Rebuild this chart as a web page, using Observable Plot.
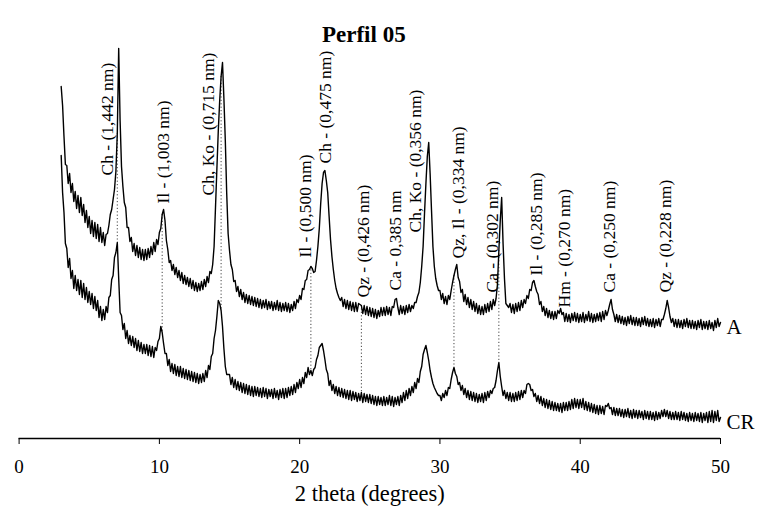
<!DOCTYPE html>
<html>
<head>
<meta charset="utf-8">
<script src="https://cdn.jsdelivr.net/npm/d3@7"></script>
<script src="https://cdn.jsdelivr.net/npm/@observablehq/plot@0.6"></script>
<style>
  body { margin: 0; background: #fff; }
</style>
</head>
<body>
<div id="chart"></div>
<script>
// XRD diffractograms, Perfil 05 — sample A (upper trace) and CR (lower trace)
const title = "Perfil 05";
const xLabel = "2 theta (degrees)";
const xTicks = [0, 10, 20, 30, 40, 50];

// Scan grid: 2θ from 3.0° in 0.1° steps (471 readings per trace), intensity in a.u.
const start2theta = 3.0;
const step2theta = 0.1;

const intensityA = [
  352, 333, 302, 274, 273, 255, 265, 246, 255, 237,
  247, 230, 243, 226, 241, 223, 234, 216, 228, 211,
  222, 205, 218, 202, 216, 200, 214, 197, 211, 196,
  206, 193, 204, 205, 213, 224, 229, 239, 249, 267,
  305, 390, 318, 272, 252, 236, 231, 211, 211, 197,
  201, 187, 195, 183, 193, 181, 191, 179, 189, 178,
  189, 179, 190, 181, 192, 184, 196, 187, 199, 194,
  206, 210, 224, 229, 218, 198, 189, 176, 178, 168,
  174, 164, 171, 161, 168, 158, 166, 155, 163, 154,
  161, 152, 160, 150, 158, 148, 156, 147, 155, 148,
  157, 149, 159, 152, 162, 156, 167, 165, 174, 192,
  231, 270, 308, 338, 362, 376, 340, 298, 245, 205,
  188, 174, 169, 157, 158, 147, 152, 142, 149, 139,
  146, 136, 144, 135, 143, 134, 142, 133, 141, 132,
  140, 131, 139, 130, 138, 131, 139, 129, 137, 130,
  137, 128, 136, 129, 138, 128, 136, 127, 135, 128,
  136, 127, 135, 126, 134, 128, 137, 130, 139, 136,
  143, 139, 150, 149, 158, 159, 168, 169, 172, 170,
  166, 167, 178, 192, 210, 235, 255, 266, 268, 258,
  246, 222, 199, 182, 169, 158, 150, 145, 141, 138,
  141, 132, 139, 130, 138, 129, 137, 128, 136, 127,
  136, 127, 135, 134, 133, 125, 133, 124, 132, 123,
  131, 122, 130, 121, 129, 120, 128, 122, 131, 123,
  131, 123, 132, 124, 131, 123, 132, 131, 139, 140,
  131, 124, 133, 125, 132, 124, 133, 126, 134, 127,
  133, 130, 136, 136, 142, 146, 156, 172, 192, 225,
  255, 282, 296, 265, 228, 192, 172, 160, 153, 148,
  148, 139, 145, 135, 142, 134, 143, 139, 148, 156,
  163, 169, 174, 161, 157, 146, 149, 137, 144, 134,
  141, 131, 139, 129, 137, 127, 135, 125, 133, 124,
  132, 124, 134, 126, 135, 127, 137, 129, 139, 133,
  140, 154, 188, 218, 241, 195, 160, 135, 133, 131,
  135, 126, 134, 125, 135, 127, 136, 128, 138, 131,
  139, 135, 143, 140, 149, 148, 156, 158, 152, 147,
  144, 134, 137, 127, 132, 123, 130, 121, 128, 120,
  127, 119, 127, 120, 128, 125, 130, 124, 126, 117,
  125, 117, 124, 116, 125, 118, 126, 117, 125, 116,
  124, 117, 126, 116, 124, 118, 127, 117, 125, 116,
  124, 117, 125, 118, 126, 117, 127, 119, 128, 123,
  128, 134, 139, 129, 124, 117, 124, 116, 123, 115,
  122, 114, 121, 113, 122, 115, 123, 114, 121, 113,
  121, 113, 120, 112, 121, 114, 122, 113, 120, 112,
  119, 112, 120, 111, 119, 113, 120, 112, 119, 119,
  124, 130, 138, 131, 122, 116, 120, 112, 119, 111,
  119, 111, 118, 110, 119, 112, 120, 111, 118, 110,
  118, 110, 117, 109, 118, 111, 119, 109, 117, 110,
  117, 109, 118, 110, 116, 108, 118, 111, 120, 112,
  116
];

const intensityCR = [
  283, 246, 226, 195, 190, 171, 180, 160, 168, 150,
  163, 148, 159, 144, 158, 141, 155, 139, 151, 136,
  147, 134, 145, 130, 142, 128, 138, 121, 132, 118,
  129, 119, 132, 126, 141, 143, 159, 163, 181, 186,
  196, 160, 126, 123, 109, 115, 100, 108, 95, 103,
  93, 102, 91, 100, 88, 98, 87, 96, 85, 94,
  85, 94, 83, 93, 82, 92, 81, 91, 88, 97,
  100, 112, 106, 95, 85, 85, 73, 79, 67, 75,
  65, 74, 63, 72, 62, 72, 61, 70, 60, 69,
  59, 68, 58, 67, 57, 66, 56, 65, 55, 64,
  56, 65, 57, 68, 61, 73, 69, 82, 85, 100,
  108, 122, 138, 135, 128, 112, 90, 72, 64, 64,
  64, 54, 61, 51, 59, 49, 57, 48, 56, 46,
  55, 45, 54, 44, 53, 43, 52, 42, 52, 43,
  51, 42, 50, 41, 51, 42, 50, 40, 49, 42,
  49, 40, 50, 41, 48, 39, 49, 41, 50, 40,
  50, 41, 51, 43, 52, 44, 54, 46, 56, 50,
  59, 51, 61, 55, 66, 61, 71, 64, 68, 63,
  69, 71, 79, 83, 91, 93, 95, 88, 79, 69,
  65, 53, 58, 48, 54, 45, 52, 43, 51, 42,
  50, 41, 49, 40, 48, 39, 48, 38, 47, 39,
  46, 37, 45, 38, 46, 36, 45, 37, 44, 36,
  44, 35, 43, 34, 42, 33, 42, 34, 41, 33,
  42, 33, 41, 34, 43, 33, 42, 32, 41, 34,
  42, 33, 43, 36, 46, 38, 48, 40, 50, 43,
  52, 46, 56, 50, 60, 56, 67, 72, 84, 89,
  93, 86, 78, 68, 61, 55, 51, 48, 45, 43,
  43, 38, 45, 41, 48, 43, 51, 50, 59, 66,
  71, 65, 62, 54, 56, 48, 53, 44, 50, 41,
  48, 39, 47, 38, 46, 37, 45, 36, 44, 37,
  45, 36, 46, 38, 47, 41, 48, 45, 50, 51,
  58, 68, 76, 62, 52, 43, 48, 40, 46, 38,
  46, 37, 45, 37, 46, 38, 47, 39, 48, 41,
  48, 45, 54, 55, 54, 48, 49, 42, 45, 37,
  43, 35, 42, 33, 40, 31, 39, 30, 38, 29,
  37, 28, 36, 28, 35, 27, 35, 26, 36, 28,
  36, 28, 37, 29, 39, 30, 40, 31, 39, 30,
  39, 31, 40, 29, 37, 28, 36, 27, 35, 26,
  34, 25, 33, 24, 33, 25, 32, 24, 33, 32,
  35, 30, 31, 24, 31, 23, 30, 23, 30, 22,
  29, 21, 29, 22, 30, 21, 28, 20, 29, 21,
  28, 20, 28, 21, 27, 19, 28, 20, 27, 19,
  27, 19, 26, 18, 27, 19, 26, 20, 28, 22,
  29, 22, 28, 20, 27, 19, 26, 19, 27, 19,
  26, 18, 27, 19, 26, 18, 25, 17, 26, 18,
  25, 17, 26, 18, 25, 17, 26, 16, 25, 18,
  26, 16, 27, 17, 28, 16, 27, 18, 28, 17,
  21
];

const seriesNames = ["A", "CR"];

// Mineral reflections: label text, 2θ of the label, and intensity at the label's base
const peakLabels = [
  "Ch - (1,442 nm)", "Il - (1,003 nm)", "Ch, Ko - (0,715 nm)", "Il - (0,500 nm)",
  "Ch - (0,475 nm)", "Qz - (0,426 nm)", "Ca - 0,385 nm", "Ch, Ko - (0,356 nm)",
  "Qz, Il - (0,334 nm)", "Ca - (0,302 nm)", "Il - (0,285 nm)", "Hm - (0,270 nm)",
  "Ca - (0,250 nm)", "Qz - (0,228 nm)"
];
const peakLabelX = [6.3, 10.3, 13.5, 20.4, 21.85, 24.55, 26.85, 28.25, 31.35, 33.75, 36.85, 38.85, 42.05, 46.1];
const peakLabelBase = [263, 235, 243, 181, 275, 141, 148, 206, 180, 146, 163, 131, 146, 146];

// Reflections traced down from trace A to trace CR
const dropX = [7.0, 10.2, 14.4, 20.8, 24.4, 31.0, 34.2];

// ---- build tables ----
const twoTheta = intensityA.map((_, i) => +(start2theta + i * step2theta).toFixed(1));
const traces = [
  ...intensityA.map((v, i) => ({series: seriesNames[0], x: twoTheta[i], y: v})),
  ...intensityCR.map((v, i) => ({series: seriesNames[1], x: twoTheta[i], y: v}))
];
const idx = (t) => Math.round((t - start2theta) / step2theta);
const drops = dropX.map(t => ({x: t, y1: intensityA[idx(t)], y2: intensityCR[idx(t)]}));
const labels = peakLabels.map((t, i) => ({text: t, x: peakLabelX[i], y: peakLabelBase[i]}));
const ends = [
  {name: seriesNames[0], x: twoTheta[twoTheta.length - 1], y: intensityA[intensityA.length - 1]},
  {name: seriesNames[1], x: twoTheta[twoTheta.length - 1], y: intensityCR[intensityCR.length - 1]}
];

const chart = Plot.plot({
  width: 760,
  height: 515,
  marginTop: 40,
  marginBottom: 77,
  marginLeft: 18.6,
  marginRight: 40,
  style: {fontFamily: "'Liberation Serif', 'Times New Roman', serif", fontSize: "19px", color: "#000", background: "#fff"},
  x: {domain: [0, 50], ticks: xTicks, tickSize: 6, tickPadding: 15, label: null, tickFormat: d3.format("d")},
  y: {domain: [0, 398], axis: null},
  marks: [
    Plot.ruleY([0], {stroke: "#000", strokeWidth: 1.5}),
    Plot.ruleX(drops, {x: "x", y1: "y1", y2: "y2", stroke: "#444", strokeWidth: 1, strokeDasharray: "1.2,2.2"}),
    Plot.line(traces, {x: "x", y: "y", z: "series", stroke: "#000", strokeWidth: 1.4}),
    Plot.text(labels, {x: "x", y: "y", text: "text", rotate: -90, textAnchor: "start", fontSize: 17.5, fill: "#000"}),
    Plot.text(ends, {x: "x", y: "y", text: "name", textAnchor: "start", dx: 6, dy: 5, fontSize: 21, fill: "#000"}),
    Plot.text([title], {frameAnchor: "top", dx: -6, dy: -15, fontSize: 23, fontWeight: "bold", fill: "#000"}),
    Plot.text([xLabel], {frameAnchor: "bottom", dy: 62, fontSize: 22.5, fill: "#000"})
  ]
});

document.getElementById("chart").append(chart);
</script>
</body>
</html>
